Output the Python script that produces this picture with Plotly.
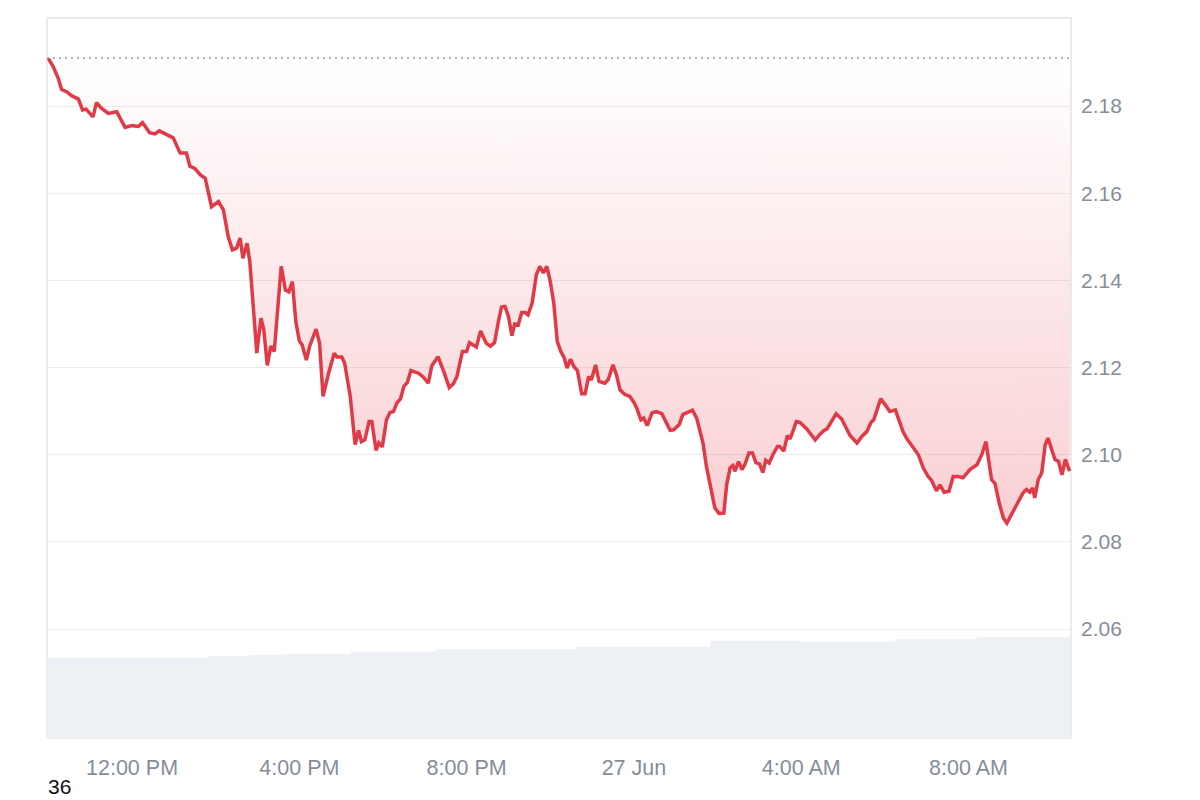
import plotly.graph_objects as go

# ---------------- data ----------------
times = [
    "2024-06-26 10:00", "2024-06-26 10:07", "2024-06-26 10:14", "2024-06-26 10:19", "2024-06-26 10:26",
    "2024-06-26 10:33", "2024-06-26 10:43", "2024-06-26 10:49", "2024-06-26 10:54", "2024-06-26 11:04",
    "2024-06-26 11:09", "2024-06-26 11:16", "2024-06-26 11:26", "2024-06-26 11:38", "2024-06-26 11:50",
    "2024-06-26 12:00", "2024-06-26 12:09", "2024-06-26 12:15", "2024-06-26 12:25", "2024-06-26 12:33",
    "2024-06-26 12:39", "2024-06-26 12:49", "2024-06-26 12:59", "2024-06-26 13:09", "2024-06-26 13:18",
    "2024-06-26 13:23", "2024-06-26 13:30", "2024-06-26 13:38", "2024-06-26 13:45", "2024-06-26 13:54",
    "2024-06-26 14:04", "2024-06-26 14:11", "2024-06-26 14:18", "2024-06-26 14:24", "2024-06-26 14:30",
    "2024-06-26 14:35", "2024-06-26 14:39", "2024-06-26 14:45", "2024-06-26 14:49", "2024-06-26 14:59",
    "2024-06-26 15:05", "2024-06-26 15:09", "2024-06-26 15:14", "2024-06-26 15:19", "2024-06-26 15:24",
    "2024-06-26 15:34", "2024-06-26 15:40", "2024-06-26 15:45", "2024-06-26 15:50", "2024-06-26 15:55",
    "2024-06-26 16:00", "2024-06-26 16:04", "2024-06-26 16:10", "2024-06-26 16:15", "2024-06-26 16:24",
    "2024-06-26 16:29", "2024-06-26 16:34", "2024-06-26 16:42", "2024-06-26 16:50", "2024-06-26 16:54",
    "2024-06-26 17:01", "2024-06-26 17:05", "2024-06-26 17:13", "2024-06-26 17:20", "2024-06-26 17:25",
    "2024-06-26 17:29", "2024-06-26 17:34", "2024-06-26 17:40", "2024-06-26 17:44", "2024-06-26 17:50",
    "2024-06-26 17:54", "2024-06-26 17:59", "2024-06-26 18:05", "2024-06-26 18:10", "2024-06-26 18:15",
    "2024-06-26 18:20", "2024-06-26 18:25", "2024-06-26 18:30", "2024-06-26 18:35", "2024-06-26 18:40",
    "2024-06-26 18:51", "2024-06-26 18:58", "2024-06-26 19:05", "2024-06-26 19:10", "2024-06-26 19:19",
    "2024-06-26 19:28", "2024-06-26 19:35", "2024-06-26 19:41", "2024-06-26 19:46", "2024-06-26 19:54",
    "2024-06-26 20:00", "2024-06-26 20:04", "2024-06-26 20:14", "2024-06-26 20:20", "2024-06-26 20:28",
    "2024-06-26 20:34", "2024-06-26 20:40", "2024-06-26 20:46", "2024-06-26 20:50", "2024-06-26 20:55",
    "2024-06-26 21:00", "2024-06-26 21:05", "2024-06-26 21:09", "2024-06-26 21:14", "2024-06-26 21:19",
    "2024-06-26 21:24", "2024-06-26 21:28", "2024-06-26 21:34", "2024-06-26 21:40", "2024-06-26 21:45",
    "2024-06-26 21:50", "2024-06-26 21:55", "2024-06-26 22:00", "2024-06-26 22:05", "2024-06-26 22:10",
    "2024-06-26 22:15", "2024-06-26 22:20", "2024-06-26 22:24", "2024-06-26 22:29", "2024-06-26 22:34",
    "2024-06-26 22:39", "2024-06-26 22:45", "2024-06-26 22:50", "2024-06-26 22:55", "2024-06-26 22:59",
    "2024-06-26 23:05", "2024-06-26 23:10", "2024-06-26 23:18", "2024-06-26 23:23", "2024-06-26 23:30",
    "2024-06-26 23:35", "2024-06-26 23:40", "2024-06-26 23:47", "2024-06-26 23:54",
    "2024-06-27 00:00", "2024-06-27 00:04", "2024-06-27 00:10", "2024-06-27 00:14", "2024-06-27 00:19",
    "2024-06-27 00:26", "2024-06-27 00:32", "2024-06-27 00:40", "2024-06-27 00:46", "2024-06-27 00:52",
    "2024-06-27 00:57", "2024-06-27 01:05", "2024-06-27 01:10", "2024-06-27 01:16", "2024-06-27 01:24",
    "2024-06-27 01:30", "2024-06-27 01:39", "2024-06-27 01:44", "2024-06-27 01:50", "2024-06-27 01:56",
    "2024-06-27 02:02", "2024-06-27 02:09", "2024-06-27 02:13", "2024-06-27 02:18", "2024-06-27 02:22",
    "2024-06-27 02:25", "2024-06-27 02:30", "2024-06-27 02:35", "2024-06-27 02:39", "2024-06-27 02:45",
    "2024-06-27 02:50", "2024-06-27 02:55", "2024-06-27 03:00", "2024-06-27 03:05", "2024-06-27 03:09",
    "2024-06-27 03:14", "2024-06-27 03:20", "2024-06-27 03:26", "2024-06-27 03:29", "2024-06-27 03:35",
    "2024-06-27 03:40", "2024-06-27 03:44", "2024-06-27 03:53", "2024-06-27 03:58", "2024-06-27 04:08",
    "2024-06-27 04:20", "2024-06-27 04:27", "2024-06-27 04:33", "2024-06-27 04:37", "2024-06-27 04:44",
    "2024-06-27 04:50", "2024-06-27 04:58", "2024-06-27 05:05", "2024-06-27 05:10", "2024-06-27 05:20",
    "2024-06-27 05:27", "2024-06-27 05:34", "2024-06-27 05:40", "2024-06-27 05:44", "2024-06-27 05:54",
    "2024-06-27 06:02", "2024-06-27 06:07", "2024-06-27 06:15", "2024-06-27 06:21", "2024-06-27 06:26",
    "2024-06-27 06:31", "2024-06-27 06:38", "2024-06-27 06:48", "2024-06-27 06:55", "2024-06-27 07:02",
    "2024-06-27 07:07", "2024-06-27 07:14", "2024-06-27 07:19", "2024-06-27 07:25", "2024-06-27 07:32",
    "2024-06-27 07:38", "2024-06-27 07:45", "2024-06-27 07:52", "2024-06-27 08:02", "2024-06-27 08:12",
    "2024-06-27 08:19", "2024-06-27 08:25", "2024-06-27 08:33", "2024-06-27 08:38", "2024-06-27 08:44",
    "2024-06-27 08:50", "2024-06-27 08:55", "2024-06-27 09:00", "2024-06-27 09:07", "2024-06-27 09:11",
    "2024-06-27 09:18", "2024-06-27 09:23", "2024-06-27 09:28", "2024-06-27 09:32", "2024-06-27 09:35",
    "2024-06-27 09:40", "2024-06-27 09:45", "2024-06-27 09:50", "2024-06-27 09:54", "2024-06-27 10:04",
    "2024-06-27 10:09", "2024-06-27 10:14", "2024-06-27 10:19", "2024-06-27 10:25",
]

prices = [
    2.1909, 2.1890, 2.1864, 2.1838, 2.1833,
    2.1824, 2.1816, 2.1791, 2.1793, 2.1775,
    2.1808, 2.1795, 2.1783, 2.1787, 2.1751,
    2.1755, 2.1753, 2.1762, 2.1739, 2.1736,
    2.1743, 2.1735, 2.1727, 2.1692, 2.1692,
    2.1662, 2.1657, 2.1642, 2.1634, 2.1569,
    2.1581, 2.1562, 2.1500, 2.1470, 2.1474,
    2.1497, 2.1451, 2.1485, 2.1442, 2.1233,
    2.1313, 2.1287, 2.1205, 2.1249, 2.1237,
    2.1432, 2.1378, 2.1374, 2.1397, 2.1305,
    2.1261, 2.1252, 2.1217, 2.1250, 2.1288,
    2.1256, 2.1134, 2.1187, 2.1233, 2.1224,
    2.1224, 2.1210, 2.1134, 2.1023, 2.1056,
    2.1030, 2.1034, 2.1076, 2.1076, 2.1010,
    2.1027, 2.1018, 2.1080, 2.1097, 2.1099,
    2.1119, 2.1128, 2.1157, 2.1166, 2.1193,
    2.1187, 2.1178, 2.1164, 2.1204, 2.1225,
    2.1187, 2.1154, 2.1163, 2.1179, 2.1237,
    2.1237, 2.1257, 2.1247, 2.1284, 2.1256,
    2.1249, 2.1257, 2.1309, 2.1339, 2.1340,
    2.1317, 2.1273, 2.1300, 2.1298, 2.1326,
    2.1326, 2.1321, 2.1348, 2.1413, 2.1432,
    2.1417, 2.1432, 2.1397, 2.1348, 2.1260,
    2.1237, 2.1222, 2.1199, 2.1219, 2.1202,
    2.1193, 2.1140, 2.1140, 2.1179, 2.1172,
    2.1206, 2.1168, 2.1164, 2.1172, 2.1206,
    2.1183, 2.1149, 2.1138, 2.1134,
    2.1120, 2.1107, 2.1080, 2.1084, 2.1067,
    2.1096, 2.1099, 2.1094, 2.1073, 2.1056,
    2.1057, 2.1069, 2.1092, 2.1096, 2.1102,
    2.1084, 2.1027, 2.0973, 2.0920, 2.0878,
    2.0865, 2.0866, 2.0931, 2.0970, 2.0975,
    2.0962, 2.0984, 2.0966, 2.0977, 2.1004,
    2.1004, 2.0982, 2.0979, 2.0959, 2.0987,
    2.0981, 2.1002, 2.1019, 2.1019, 2.1008,
    2.1044, 2.1036, 2.1076, 2.1074, 2.1059,
    2.1034, 2.1047, 2.1056, 2.1059, 2.1080,
    2.1094, 2.1082, 2.1057, 2.1044, 2.1027,
    2.1042, 2.1053, 2.1074, 2.1080, 2.1128,
    2.1111, 2.1099, 2.1103, 2.1076, 2.1053,
    2.1038, 2.1023, 2.1000, 2.0970, 2.0950,
    2.0941, 2.0917, 2.0931, 2.0914, 2.0916,
    2.0950, 2.0950, 2.0947, 2.0966, 2.0977,
    2.1000, 2.1030, 2.0943, 2.0934, 2.0889,
    2.0855, 2.0843, 2.0859, 2.0881, 2.0891,
    2.0912, 2.0920, 2.0914, 2.0924, 2.0901,
    2.0943, 2.0958, 2.1023, 2.1038, 2.0989,
    2.0985, 2.0954, 2.0989, 2.0962,
]

open_price = 2.191

# volume (arbitrary units) as step segments
volume_times = [
    "2024-06-26 09:58", "2024-06-26 13:48", "2024-06-26 14:48", "2024-06-26 15:35",
    "2024-06-26 17:14", "2024-06-26 19:17", "2024-06-26 22:38", "2024-06-27 01:50",
    "2024-06-27 03:58", "2024-06-27 06:15", "2024-06-27 08:12", "2024-06-27 10:27",
]
volume_levels = [320, 328, 332, 335, 345, 356, 365, 389, 385, 395, 403, 403]

x_range = ["2024-06-26 09:58", "2024-06-27 10:27"]
x_tickvals = ["2024-06-26 12:00", "2024-06-26 16:00", "2024-06-26 20:00",
              "2024-06-27 00:00", "2024-06-27 04:00", "2024-06-27 08:00"]
x_ticktext = ["12:00 PM", "4:00 PM", "8:00 PM", "27 Jun", "4:00 AM", "8:00 AM"]
y_tickvals = [2.06, 2.08, 2.10, 2.12, 2.14, 2.16, 2.18]
y_ticktext = ["2.06", "2.08", "2.10", "2.12", "2.14", "2.16", "2.18"]
corner_label = "36"

# ---------------- figure ----------------
LINE_RED = "#e03a47"
TICK_GREY = "#868d99"
FONT = "Liberation Sans, Arial, sans-serif"

fig = go.Figure()

# volume area (secondary axis, behind)
fig.add_trace(go.Scatter(
    x=volume_times, y=volume_levels, yaxis="y2",
    mode="lines", line=dict(width=0, shape="hv", color="#edf0f4"),
    fill="tozeroy", fillcolor="#edf0f4", hoverinfo="skip", showlegend=False,
))

# baseline (dotted) at opening price
fig.add_trace(go.Scatter(
    x=x_range, y=[open_price, open_price], mode="lines",
    line=dict(color="#9a9a9a", width=1.5, dash="2px,4px"),
    hoverinfo="skip", showlegend=False,
))

# price line with gradient fill up to baseline
fig.add_trace(go.Scatter(
    x=times, y=prices, mode="lines",
    line=dict(color=LINE_RED, width=3.5),
    fill="tonexty",
    fillgradient=dict(
        type="vertical",
        colorscale=[[0, "rgba(230,57,70,0.24)"], [1, "rgba(230,57,70,0.0)"]],
    ),
    showlegend=False,
))

fig.update_layout(
    width=1200, height=800, autosize=False,
    margin=dict(l=47, r=129, t=18, b=62, pad=0),
    paper_bgcolor="white", plot_bgcolor="white",
    font=dict(family=FONT, size=21, color=TICK_GREY),
    xaxis=dict(
        type="date", range=x_range,
        tickvals=x_tickvals, ticktext=x_ticktext,
        showgrid=False, zeroline=False, showline=False, ticks="",
        ticklabelstandoff=14,
        tickfont=dict(family=FONT, size=21.5, color=TICK_GREY),
    ),
    yaxis=dict(
        side="right", range=[2.035, 2.2002],
        tickvals=y_tickvals, ticktext=y_ticktext,
        showgrid=True, gridcolor="#ececec", gridwidth=1,
        zeroline=False, showline=False, ticks="",
        ticklabelstandoff=9,
        tickfont=dict(family=FONT, size=21, color=TICK_GREY),
    ),
    yaxis2=dict(
        overlaying="y", range=[0, 2880], visible=False,
        showgrid=False, zeroline=False,
    ),
    shapes=[dict(
        type="rect", xref="paper", yref="paper", x0=0, x1=1, y0=0, y1=1,
        line=dict(color="#ebebeb", width=2), layer="below",
    )],
    annotations=[dict(
        text=corner_label, xref="paper", yref="paper", x=0, y=-0.0845,
        xanchor="left", yanchor="bottom", showarrow=False, borderpad=0,
        font=dict(family=FONT, size=21, color="#111111"),
    )],
)

fig.write_html("out.html", config={"displayModeBar": False},
               post_script="document.body.style.margin='0';")
